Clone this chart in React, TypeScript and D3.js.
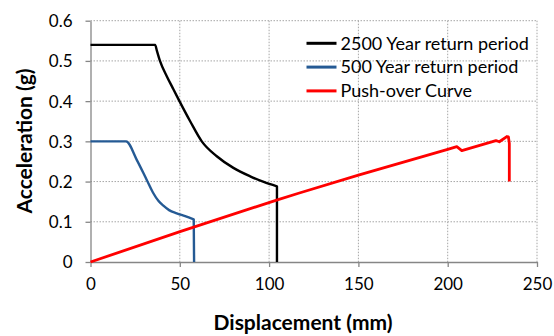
import * as d3 from "d3";
import { useEffect, useRef } from "react";

// 2500 year return period spectrum (displacement mm, acceleration g)
const disp2500 = [0, 36.2, 37.2, 38.9, 42.7, 46.0, 49.8, 55.8, 62.3, 70.7, 80.0, 89.4, 97.0, 104.4, 104.4];
const acc2500 = [0.54, 0.54, 0.525, 0.5, 0.462, 0.433, 0.4, 0.35, 0.3, 0.263, 0.234, 0.213, 0.199, 0.188, 0];

// 500 year return period spectrum
const disp500 = [0, 19.9, 25.9, 31.5, 35.2, 38.0, 40.8, 44.0, 48.3, 53.0, 57.8, 58.0];
const acc500 = [0.3, 0.3, 0.254, 0.204, 0.171, 0.152, 0.14, 0.129, 0.121, 0.114, 0.106, 0];

// push-over curve
const dispPush = [0, 50.1, 104.2, 116.5, 150, 200, 205.1, 207.9, 227, 228.9, 233.1, 234.0, 234.5, 234.5];
const accPush = [0, 0.0754, 0.154, 0.171, 0.216, 0.28, 0.287, 0.277, 0.302, 0.299, 0.312, 0.311, 0.295, 0.2];

const xTicks = [0, 50, 100, 150, 200, 250];
const yTicks = [0, 0.1, 0.2, 0.3, 0.4, 0.5, 0.6];

const legendLabels = ["2500 Year return period", "500 Year return period", "Push-over Curve"];
const colors = ["#000000", "#255a94", "#ff0000"];

export default function App() {
  const ref = useRef<SVGSVGElement>(null);

  useEffect(() => {
    const width = 554;
    const height = 336;
    const margin = { top: 20.7, right: 17, bottom: 74, left: 90.5 };
    const innerWidth = width - margin.left - margin.right;
    const innerHeight = height - margin.top - margin.bottom;

    const svg = d3.select(ref.current);
    svg.selectAll("*").remove();
    svg.attr("width", width).attr("height", height);

    const font = "Lato, 'Open Sans', sans-serif";

    const x = d3.scaleLinear().domain([0, 250]).range([0, innerWidth]);
    const y = d3.scaleLinear().domain([0, 0.6]).range([innerHeight, 0]);

    const g = svg.append("g").attr("transform", `translate(${margin.left},${margin.top})`);

    // grid
    g.append("g")
      .selectAll("line")
      .data(xTicks.slice(1))
      .enter()
      .append("line")
      .attr("x1", (d) => x(d))
      .attr("x2", (d) => x(d))
      .attr("y1", 0)
      .attr("y2", innerHeight)
      .attr("stroke", "#a6a6a6")
      .attr("stroke-dasharray", "1.5,1.5");
    g.append("g")
      .selectAll("line")
      .data(yTicks.slice(1))
      .enter()
      .append("line")
      .attr("x1", 0)
      .attr("x2", innerWidth)
      .attr("y1", (d) => y(d))
      .attr("y2", (d) => y(d))
      .attr("stroke", "#a6a6a6")
      .attr("stroke-dasharray", "1.5,1.5");

    // axes
    const xAxis = d3.axisBottom(x).tickValues(xTicks).tickSize(5).tickSizeOuter(0).tickFormat(d3.format("d"));
    const yAxis = d3.axisLeft(y).tickValues(yTicks).tickSize(5).tickSizeOuter(0).tickFormat((d) => (d === 0 ? "0" : d3.format(".1f")(d as number)));

    const xg = g.append("g").attr("transform", `translate(0,${innerHeight})`).call(xAxis);
    const yg = g.append("g").call(yAxis);
    [xg, yg].forEach((a) => {
      a.select(".domain").attr("stroke", "#868686").attr("stroke-width", 1.3);
      a.selectAll(".tick line").attr("stroke", "#868686").attr("stroke-width", 1.3);
      a.selectAll(".tick text").attr("fill", "#000").style("font-family", font).style("font-size", "17px");
    });
    xg.selectAll(".tick text").attr("dy", "0.71em").attr("y", 16);
    yg.selectAll(".tick text").attr("x", -18).attr("dy", "0.35em");

    // series: smooth spectra end with a vertical drop, push-over is piecewise
    const smooth = d3
      .line<[number, number]>()
      .x((d) => x(d[0]))
      .y((d) => y(d[1]))
      .curve(d3.curveMonotoneX);
    const straight = d3
      .line<[number, number]>()
      .x((d) => x(d[0]))
      .y((d) => y(d[1]));

    const series = [
      { xs: disp2500, ys: acc2500, color: colors[0], w: 2.4, drop: true },
      { xs: disp500, ys: acc500, color: colors[1], w: 2.4, drop: true },
      { xs: dispPush, ys: accPush, color: colors[2], w: 2.8, drop: false },
    ];
    series.forEach((s) => {
      const pts = s.xs.map((v, i) => [v, s.ys[i]] as [number, number]);
      let d: string;
      if (s.drop) {
        const last = pts[pts.length - 1];
        d = smooth(pts.slice(0, -1)) + `L${x(last[0])},${y(last[1])}`;
      } else {
        d = straight(pts) as string;
      }
      g.append("path")
        .attr("d", d)
        .attr("fill", "none")
        .attr("stroke", s.color)
        .attr("stroke-width", s.w)
        .attr("stroke-linejoin", "round");
    });

    // legend
    const legend = svg.append("g").attr("transform", "translate(306.5,43.3)");
    legendLabels.forEach((label, i) => {
      const row = legend.append("g").attr("transform", `translate(0,${i * 23.8})`);
      row.append("line")
        .attr("x1", 0)
        .attr("x2", 30)
        .attr("stroke", colors[i])
        .attr("stroke-width", 3);
      row.append("text")
        .text(label)
        .attr("x", 34)
        .attr("dy", "0.35em")
        .style("font-family", font)
        .style("font-size", "18px");
    });

    // axis titles
    svg.append("text")
      .text("Displacement (mm)")
      .attr("x", 303)
      .attr("y", 330)
      .attr("text-anchor", "middle")
      .style("font-family", font)
      .style("font-weight", "bold")
      .style("font-size", "21px");
    svg.append("text")
      .text("Acceleration (g)")
      .attr("transform", "translate(32,141) rotate(-90)")
      .attr("text-anchor", "middle")
      .style("font-family", font)
      .style("font-weight", "bold")
      .style("font-size", "21px");
  }, []);

  return <svg ref={ref} style={{ position: "absolute", left: 0, top: 0 }}></svg>;
}
